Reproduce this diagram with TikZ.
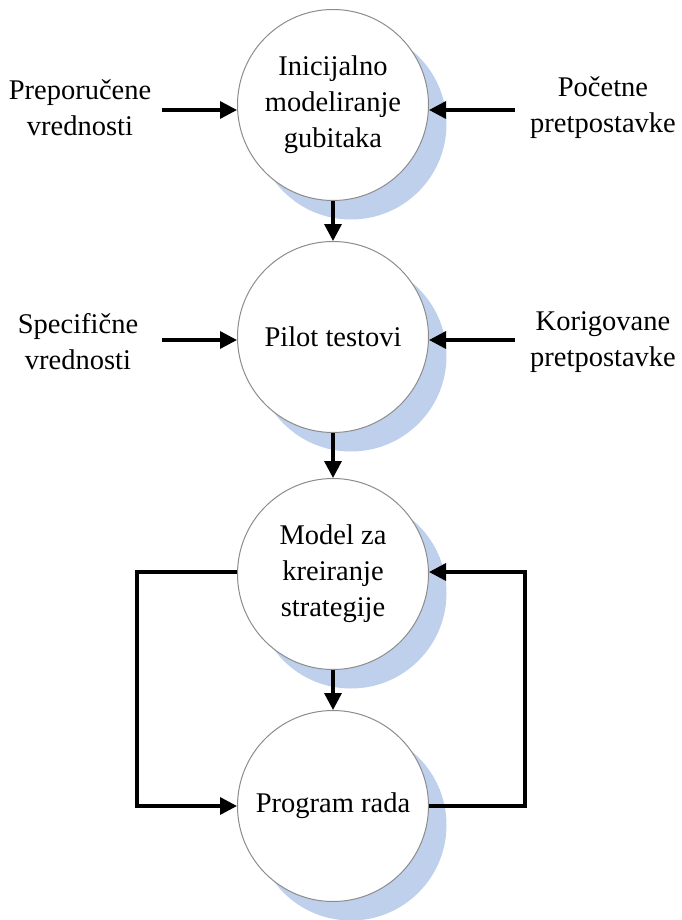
\documentclass[tikz,border=0pt]{standalone}
\usepackage{fontspec}
\setmainfont{Liberation Serif}
\usetikzlibrary{arrows.meta,shadows}
\definecolor{shadowblue}{RGB}{190,208,236}
\definecolor{rimgray}{RGB}{140,140,140}
\tikzset{
  proc/.style={circle, draw=rimgray, line width=1pt, fill=white,
    minimum size=191pt, inner sep=0pt, align=center,
    general shadow={shadow xshift=18pt, shadow yshift=-19pt, fill=shadowblue}},
  sidelabel/.style={align=center, inner sep=0pt},
  arr/.style={line width=3.4pt, -{Triangle[length=17pt,width=17pt]}},
}
\begin{document}
\begin{tikzpicture}[x=1pt,y=-1pt,
  every node/.append style={font=\fontsize{28.5}{36}\selectfont}]
\useasboundingbox (0,0) rectangle (681,920);

% process circles
\node[proc] (c1) at (333,105) {Inicijalno\\modeliranje\\gubitaka};
\node[proc] (c2) at (333,337) {Pilot testovi};
\node[proc] (c3) at (333,574) {Model za\\kreiranje\\strategije};
\node[proc] (c4) at (333,806) {Program rada};

% inputs
\node[sidelabel] (l1) at (80,108) {Preporučene\\vrednosti};
\node[sidelabel] (r1) at (603,108) {Početne\\pretpostavke};
\node[sidelabel] (l2) at (78,342) {Specifične\\vrednosti};
\node[sidelabel] (r2) at (603,342) {Korigovane\\pretpostavke};

\draw[arr] (162,110) coordinate (l1e) -- (c1.west |- l1e);
\draw[arr] (515,110) coordinate (r1e) -- (c1.east |- r1e);
\draw[arr] (162,340) coordinate (l2e) -- (c2.west |- l2e);
\draw[arr] (515,340) coordinate (r2e) -- (c2.east |- r2e);

% main flow
\draw[arr] (c1.south) -- (c2.north);
\draw[arr] (c2.south) -- (c3.north);
\draw[arr] (c3.south) -- (c4.north);

% feedback loop
\coordinate (lt) at (137,572);
\coordinate (rt) at (525,572);
\draw[arr] (c3.west |- lt) -- (lt) |- (c4.west);
\draw[arr] (c4.east) -| (rt) -- (c3.east |- rt);
\end{tikzpicture}
\end{document}
